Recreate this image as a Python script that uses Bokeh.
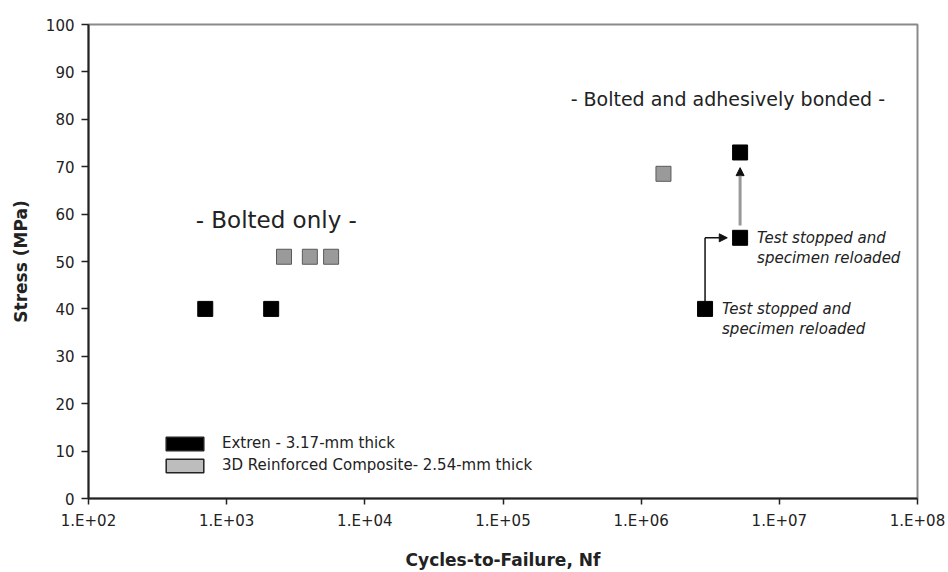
from bokeh.plotting import figure
from bokeh.models import (FixedTicker, Legend, LegendItem, ColumnDataSource,
                          Arrow, NormalHead, Label, Range1d)
from bokeh.embed import file_html
from bokeh.resources import INLINE

# ---- data ----
extren_cycles = [700, 2100, 2.9e6, 5.2e6, 5.2e6]
extren_stress = [40, 40, 40, 55, 73]
comp_cycles = [2600, 4000, 5700, 1.45e6]
comp_stress = [51, 51, 51, 68.5]

x_ticks = [1e2, 1e3, 1e4, 1e5, 1e6, 1e7, 1e8]
x_tick_labels = ["1.E+02", "1.E+03", "1.E+04", "1.E+05", "1.E+06", "1.E+07", "1.E+08"]
y_ticks = [0, 10, 20, 30, 40, 50, 60, 70, 80, 90, 100]

series_names = ["Extren - 3.17-mm thick", "3D Reinforced Composite- 2.54-mm thick"]
note_text = "Test stopped and"
note_text2 = "specimen reloaded"

FONT = "DejaVu Sans"
nan = float("nan")

p = figure(width=948, height=572, x_axis_type="log",
           x_range=Range1d(1e2, 1e8), y_range=Range1d(0, 100),
           output_backend="svg", toolbar_location=None,
           min_border_left=88, min_border_right=31, min_border_top=24, min_border_bottom=74)
p.background_fill_color = "white"
p.border_fill_color = "white"
p.outline_line_color = "#8a8a8a"
p.outline_line_width = 2
p.xgrid.visible = False
p.ygrid.visible = False

# axes
p.xaxis.ticker = FixedTicker(ticks=x_ticks)
p.xaxis.major_label_overrides = {int(t): lab for t, lab in zip(x_ticks, x_tick_labels)}
p.yaxis.ticker = FixedTicker(ticks=y_ticks)
for ax in (p.xaxis[0], p.yaxis[0]):
    ax.axis_line_color = "#222222"
    ax.axis_line_width = 2
    ax.major_tick_line_color = "#222222"
    ax.major_tick_line_width = 1.5
    ax.major_tick_in = 0
    ax.major_tick_out = 7
    ax.minor_tick_line_color = None
    ax.major_label_text_font = FONT
    ax.major_label_text_font_size = "15px"
    ax.major_label_text_color = "#222222"
    ax.axis_label_text_font = FONT
    ax.axis_label_text_font_style = "bold"
    ax.axis_label_text_font_size = "17px"
    ax.axis_label_text_color = "#222222"
p.xaxis.major_tick_out = 6
p.xaxis.major_label_standoff = 7
p.yaxis.major_label_standoff = 7
p.xaxis.axis_label = "Cycles-to-Failure, Nf"
p.yaxis.axis_label = "Stress (MPa)"
p.xaxis.axis_label_standoff = 17
p.yaxis.axis_label_standoff = 12

# annotations arrows
head_style = dict(fill_color="#111111", line_color="#111111", size=8)
p.segment(x0=[extren_cycles[2]], y0=[extren_stress[2] + 1.6],
          x1=[extren_cycles[2]], y1=[extren_stress[3]],
          line_color="#111111", line_width=1.5)
p.add_layout(Arrow(end=NormalHead(**head_style),
                   x_start=extren_cycles[2], y_start=extren_stress[3],
                   x_end=4.2e6, y_end=extren_stress[3],
                   line_color="#111111", line_width=1.5))
p.add_layout(Arrow(end=NormalHead(**head_style),
                   x_start=extren_cycles[3], y_start=57.6,
                   x_end=extren_cycles[4], y_end=69.8,
                   line_color="#999999", line_width=3))

# points
p.scatter(extren_cycles, extren_stress, marker="square", size=15,
          fill_color="black", line_color="black")
p.scatter(comp_cycles, comp_stress, marker="square", size=15,
          fill_color="#9a9a9a", line_color="#5a5a5a", line_width=1)

# legend swatches: area glyphs with no drawable (NaN) geometry
swatch = ColumnDataSource(data=dict(l=[nan], r=[nan], t=[nan], b=[nan]))
leg1 = p.quad(left="l", right="r", top="t", bottom="b", source=swatch,
              fill_color="black", line_color="#222222", line_width=1.5)
leg2 = p.quad(left="l", right="r", top="t", bottom="b", source=swatch,
              fill_color="#bdbdbd", line_color="#222222", line_width=1.5)
legend = Legend(items=[LegendItem(label=series_names[0], renderers=[leg1]),
                       LegendItem(label=series_names[1], renderers=[leg2])],
                location=(73, 24), glyph_width=47, glyph_height=17,
                label_height=17, spacing=4, padding=0, margin=0,
                label_standoff=14, border_line_alpha=0, background_fill_alpha=0,
                label_text_font=FONT, label_text_font_size="15px",
                label_text_color="#222222")
p.add_layout(legend, "center")

# text labels
p.add_layout(Label(x=2286, y=58.8, text="- Bolted only -", text_align="center",
                   text_baseline="middle", text_font=FONT, text_font_size="23px",
                   text_color="#222222"))
p.add_layout(Label(x=4.24e6, y=84.2, text="- Bolted and adhesively bonded -",
                   text_align="center", text_baseline="middle", text_font=FONT,
                   text_font_size="19px", text_color="#222222"))
for nx, ny in [(extren_cycles[3], extren_stress[3]), (extren_cycles[2], extren_stress[2])]:
    for k, t in enumerate([note_text, note_text2]):
        p.add_layout(Label(x=nx, y=ny, text=t, x_offset=17, y_offset=-20 * k,
                           text_align="left", text_baseline="middle",
                           text_font=FONT, text_font_style="italic",
                           text_font_size="15px", text_color="#222222"))

open("out.html", "w").write(file_html(p, INLINE))
